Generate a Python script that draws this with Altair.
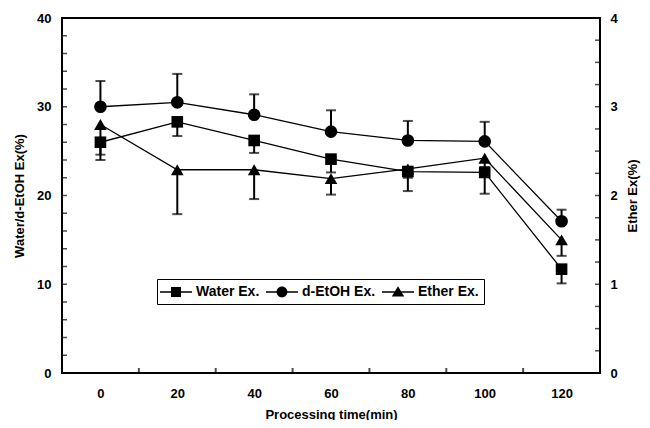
import altair as alt
import pandas as pd

# ---- data ----
times = [0, 20, 40, 60, 80, 100, 120]
water = [26.0, 28.3, 26.2, 24.1, 22.7, 22.6, 11.7]
water_err = [2.0, 1.6, 1.4, 1.5, 2.2, 2.4, 1.6]
etoh = [30.0, 30.5, 29.1, 27.2, 26.2, 26.1, 17.1]
etoh_err = [2.9, 3.2, 2.3, 2.4, 2.2, 2.2, 1.3]
ether = [2.80, 2.29, 2.29, 2.19, 2.30, 2.42, 1.50]
ether_err = [0.34, 0.50, 0.33, 0.18, 0.10, 0.10, 0.18]
series_names = ["Water Ex.", "d-EtOH Ex.", "Ether Ex."]

x_labels = [0, 20, 40, 60, 80, 100, 120]
x_minor = [10, 30, 50, 70, 90, 110]
left_labels = [0, 10, 20, 30, 40]
left_minor = list(range(0, 41, 2))
right_labels = [0, 1, 2, 3, 4]
right_minor = [i * 0.25 for i in range(17)]

FONT = "Liberation Sans"
W, H = 538, 355

water_df = pd.DataFrame({"time": times, "value": water,
                         "lo": [v - e for v, e in zip(water, water_err)], "hi": water})
etoh_df = pd.DataFrame({"time": times, "value": etoh,
                        "lo": etoh, "hi": [v + e for v, e in zip(etoh, etoh_err)]})
ether_df = pd.DataFrame({"time": times, "value": ether,
                         "lo": [v - e for v, e in zip(ether, ether_err)], "hi": ether})
legend_df = pd.DataFrame({"series": series_names})

xscale = alt.Scale(domain=[-10, 130], nice=False, zero=False)
xaxis = alt.Axis(values=x_labels, title="Processing time(min)", labelPadding=14,
                 titlePadding=8, labelFlush=False)
lscale = alt.Scale(domain=[0, 40], nice=False)
laxis = alt.Axis(values=left_labels, title="Water/d-EtOH Ex(%)", labelPadding=11,
                 titlePadding=10, orient="left")
rscale = alt.Scale(domain=[0, 4], nice=False)
raxis = alt.Axis(values=right_labels, title="Ether Ex(%)", labelPadding=10,
                 titlePadding=9, orient="right", titleAngle=270, titleBaseline="top",
                 format="d")


def X(f):
    return alt.X(f, scale=xscale, axis=xaxis)


def YL(f):
    return alt.Y(f, scale=lscale, axis=laxis)


def YR(f):
    return alt.Y(f, scale=rscale, axis=raxis)


def series_layers(df, Yf, shape, size, cap_field):
    base = alt.Chart(df)
    line = base.mark_line(color="black", strokeWidth=1.3).encode(x=X("time:Q"), y=Yf("value:Q"))
    bar = base.mark_rule(color="black", strokeWidth=2).encode(
        x=X("time:Q"), y=Yf("lo:Q"), y2="hi:Q")
    cap = base.mark_tick(color="black", orient="horizontal", size=10, thickness=2).encode(
        x=X("time:Q"), y=Yf(cap_field))
    pts = base.mark_point(shape=shape, filled=True, color="black", size=size, opacity=1).encode(
        x=X("time:Q"), y=Yf("value:Q"))
    return line, bar, cap, pts


wl, wb, wc, wp = series_layers(water_df, YL, "square", 135, "lo:Q")
el, eb, ec, ep = series_layers(etoh_df, YL, "circle", 160, "hi:Q")
tl, tb, tc, tp = series_layers(ether_df, YR, "triangle-up", 160, "lo:Q")

left_ticks = alt.Chart(pd.DataFrame({"t": left_minor})).mark_tick(
    color="black", orient="horizontal", size=5, thickness=1.5).encode(
    y=YL("t:Q"), x=alt.value(2.5))
bottom_ticks = alt.Chart(pd.DataFrame({"t": x_minor})).mark_tick(
    color="black", orient="vertical", size=5, thickness=2).encode(
    x=X("t:Q"), y=alt.value(H - 2.5))
right_ticks = alt.Chart(pd.DataFrame({"t": right_minor})).mark_tick(
    color="black", orient="horizontal", size=5, thickness=1.5).encode(
    y=YR("t:Q"), x=alt.value(W - 2.5))

# legend glyphs: a thin filled bar (the line) plus the marker
paths = [
    "M-2,-0.08H2V0.08H-2ZM-0.62,-0.62H0.62V0.62H-0.62Z",
    "M-2,-0.08H2V0.08H-2ZM0.68,0A0.68,0.68,0,1,1,-0.68,0A0.68,0.68,0,1,1,0.68,0Z",
    "M-2,-0.08H2V0.08H-2ZM0,-0.72L0.78,0.56H-0.78Z",
]
legend_layer = alt.Chart(legend_df).transform_filter("false").mark_point(
    filled=True, color="black", opacity=1).encode(
    shape=alt.Shape("series:N", scale=alt.Scale(domain=series_names, range=paths),
                    legend=alt.Legend(orient="none", legendX=95, legendY=261,
                                      direction="horizontal", columns=3, title=None,
                                      labelFont=FONT, labelFontSize=14, labelFontWeight="bold",
                                      labelColor="black", symbolSize=256, symbolOffset=6,
                                      labelOffset=12, symbolFillColor="black",
                                      symbolStrokeWidth=0,
                                      symbolOpacity=1, strokeColor="black", fillColor="white",
                                      padding=5, columnPadding=6)))

left = alt.layer(wl, el, wb, wc, eb, ec, wp, ep, left_ticks, bottom_ticks, legend_layer)
right = alt.layer(tl, tb, tc, tp, right_ticks)

chart = alt.layer(left, right).resolve_scale(y="independent").properties(
    width=W, height=H,
    autosize=alt.AutoSizeParams(type="none"),
    padding={"left": 54, "top": 10, "right": 42, "bottom": 47},
).configure_axis(
    labelFont=FONT, labelFontSize=13, labelFontWeight="bold", labelColor="black",
    titleFont=FONT, titleFontSize=13, titleFontWeight="bold", titleColor="black",
    grid=False, ticks=False, domain=False,
).configure_view(stroke="black", strokeWidth=2)

chart.save("out.html", embed_options={"renderer": "svg", "actions": False})
